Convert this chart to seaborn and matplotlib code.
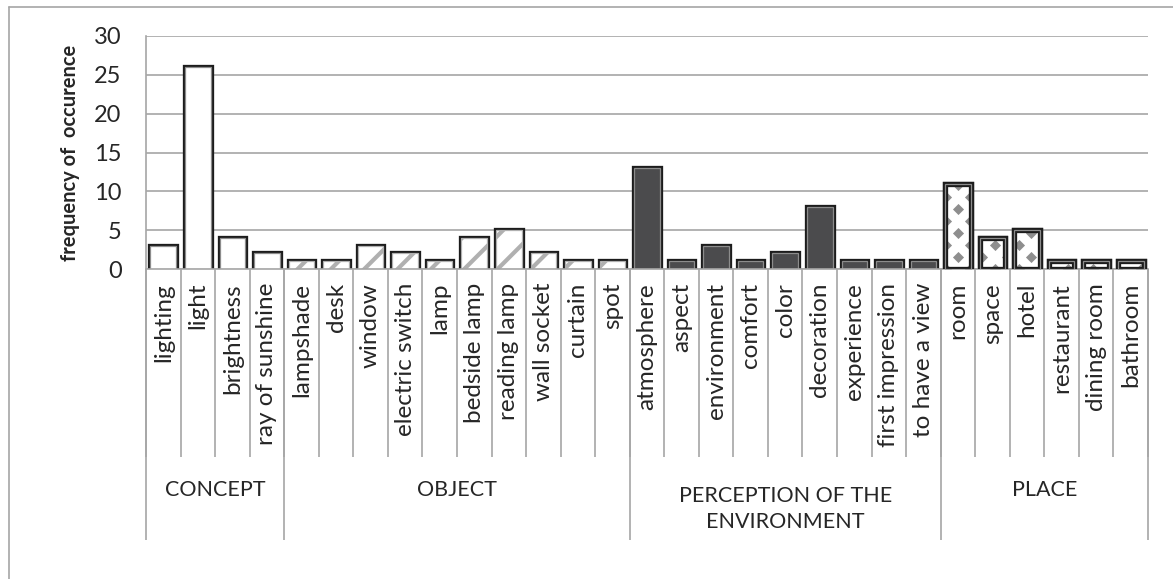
import matplotlib
matplotlib.use('Agg')
import matplotlib.pyplot as plt
import matplotlib.patheffects as pe
from matplotlib.lines import Line2D
from matplotlib.patches import Rectangle
import numpy as np
import pandas as pd
import seaborn as sns

# Data
groups = ['CONCEPT', 'OBJECT', 'PERCEPTION OF THE\nENVIRONMENT', 'PLACE']
concept_terms = ['lighting', 'light', 'brightness', 'ray of sunshine']
concept_counts = [3, 26, 4, 2]
object_terms = ['lampshade', 'desk', 'window', 'electric switch', 'lamp',
                'bedside lamp', 'reading lamp', 'wall socket', 'curtain', 'spot']
object_counts = [1, 1, 3, 2, 1, 4, 5, 2, 1, 1]
perception_terms = ['atmosphere', 'aspect', 'environment', 'comfort', 'color',
                    'decoration', 'experience', 'first impression', 'to have a view']
perception_counts = [13, 1, 3, 1, 2, 8, 1, 1, 1]
place_terms = ['room', 'space', 'hotel', 'restaurant', 'dining room', 'bathroom']
place_counts = [11, 4, 5, 1, 1, 1]
y_ticks = [0, 5, 10, 15, 20, 25, 30]

terms_by_group = [concept_terms, object_terms, perception_terms, place_terms]
counts_by_group = [concept_counts, object_counts, perception_counts, place_counts]

df = pd.DataFrame({
    'term': sum(terms_by_group, []),
    'count': sum(counts_by_group, []),
    'group': sum([[g] * len(t) for g, t in zip(groups, terms_by_group)], []),
})

sns.set_style('white')
plt.rcParams['font.family'] = ['Lato', 'DejaVu Sans']
plt.rcParams['hatch.linewidth'] = 3.0

GRID = '#a6a6a6'
TXT = '#262626'
fig = plt.figure(figsize=(11.73, 5.79), dpi=100)
ax = fig.add_axes([146 / 1173, 1 - 269 / 579, 1002 / 1173, 233 / 579])

sns.barplot(data=df, x='term', y='count', hue='group', hue_order=groups,
            order=df['term'], dodge=False, width=0.74, legend=False,
            palette=['white', 'white', '#4b4b4d', 'white'], saturation=1,
            ax=ax, zorder=2)

# bar styles: thick black outline with thin grey inner line
styles = {
    groups[0]: dict(face='white', inner='#8c8c8c', hatch=None),
    groups[1]: dict(face='white', inner='#b0b0b0', hatch='/'),
    groups[2]: dict(face='#4b4b4d', inner='#8c8c8c', hatch=None),
    groups[3]: dict(face='white', inner='#8c8c8c', hatch=None),
}
outline = [pe.Stroke(linewidth=3.8, foreground='#1c1c1c'), pe.Normal()]

for grp, cont in zip(groups, ax.containers):
    st = styles[grp]
    for bar in cont:
        bar.set_facecolor(st['face'])
        bar.set_edgecolor(st['inner'])
        bar.set_linewidth(0.9)
        bar.set_hatch(st['hatch'])
        bar.set_path_effects(outline)

# diamond pattern fill for PLACE bars
place_bars = list(ax.containers[3])
dx, dy = 0.354, 1.55
x_anchor = place_bars[0].get_x() + place_bars[0].get_width() / 2
for bar in place_bars:
    x0, w, h = bar.get_x(), bar.get_width(), bar.get_height()
    i_lo = int(np.floor((x0 - x_anchor) / dx)) - 1
    i_hi = int(np.ceil((x0 + w - x_anchor) / dx)) + 1
    pts = [(x_anchor + i * dx, j * dy)
           for i in range(i_lo, i_hi + 1)
           for j in range(0, int(h / dy) + 2) if (i + j) % 2 == 1]
    px, py = zip(*pts)
    sc = ax.scatter(px, py, marker='D', s=32, color='#8e8e8e', linewidths=0,
                    zorder=2.5)
    sc.set_clip_path(bar)
    ax.add_patch(Rectangle(bar.get_xy(), w, h, fill=False, edgecolor='#8c8c8c',
                           linewidth=0.9, path_effects=outline, zorder=3))

ax.set_ylim(0, 30)
ax.set_xlim(-0.5, len(df) - 0.5)
ax.set_yticks(y_ticks)
ax.yaxis.grid(True, color=GRID, linewidth=1.2)
ax.set_axisbelow(True)
for side in ['top', 'right']:
    ax.spines[side].set_visible(False)
for side in ['left', 'bottom']:
    ax.spines[side].set_color(GRID)
    ax.spines[side].set_linewidth(1.2)

ax.tick_params(axis='y', length=6.5, width=1.2, color=GRID, labelsize=17,
               pad=11, labelcolor=TXT)
ax.tick_params(axis='x', length=0, pad=10, labelsize=17.5, labelcolor=TXT)
ax.set_xticks(range(len(df)))
ax.set_xticklabels(df['term'], rotation=90)
ax.set_xlabel('')
ax.set_ylabel('frequency of  occurence', fontsize=14.5, fontweight='bold',
              labelpad=10, color=TXT)

# category separators and group labels under the axis
trans = ax.get_xaxis_transform()
edges = np.arange(len(df) + 1) - 0.5
bounds = np.cumsum([0] + [len(t) for t in terms_by_group]) - 0.5
ax.vlines(edges, -0.807, 0, transform=trans, color=GRID, lw=1.2, clip_on=False)
ax.vlines(bounds, -1.163, 0, transform=trans, color=GRID, lw=1.2, clip_on=False)
for k, grp in enumerate(groups):
    xc = (bounds[k] + bounds[k + 1]) / 2
    yc = -0.95 if '\n' not in grp else -1.03
    ax.text(xc, yc, grp, transform=trans, ha='center', va='center',
            fontsize=15.5, linespacing=1.4, color=TXT)

# outer chart frame
fig.add_artist(Line2D([9 / 1173, 1], [1 - 7 / 579] * 2, color=GRID, lw=1.2))
fig.add_artist(Line2D([9 / 1173] * 2, [0, 1 - 7 / 579], color=GRID, lw=1.2))

fig.savefig('out.png', dpi=100, facecolor='white')
